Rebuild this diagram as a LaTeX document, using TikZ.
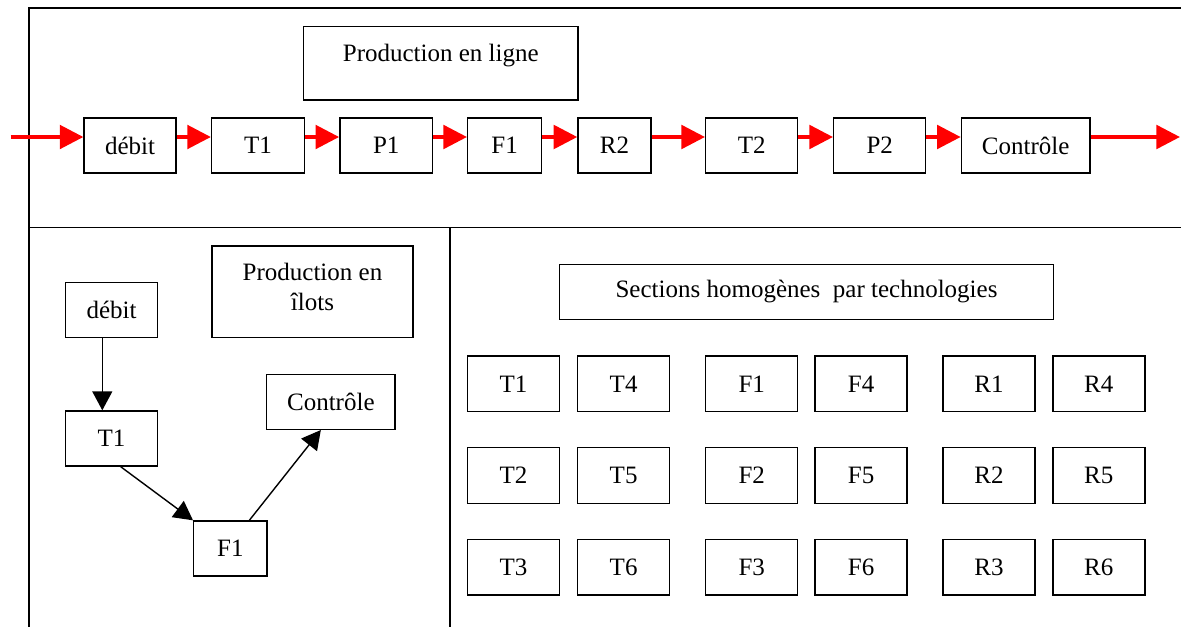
\documentclass[tikz,border=0pt]{standalone}
\usepackage{fontspec}
\setmainfont{Liberation Serif}
\usetikzlibrary{arrows.meta}
\begin{document}
\begin{tikzpicture}[x=0.5pt,y=-0.5pt,
  every node/.style={font=\fontsize{12.5}{15}\selectfont},
  box/.style={draw=black, line width=0.7pt, rectangle, inner sep=0pt,
              minimum height=27.5pt, minimum width=46pt},
  frame/.style={line width=0.9pt},
  flow/.style={draw=red, line width=2pt, -{Triangle[length=11.8pt,width=11.7pt]}},
  link/.style={draw=black, line width=0.7pt, -{Triangle[length=9.5pt,width=10pt]}},
]
\useasboundingbox (0,0) rectangle (1181,627);

% frame and section dividers
\draw[frame] (1181,8) -- (29,8) -- (29,627);
\draw[frame] (29,227.5) -- (1181,227.5);
\draw[frame] (450,227.5) -- (450,627);

% ---- line production ----
\node[box, minimum width=137.25pt, minimum height=36.65pt] (ligne) at (440.75,63.35) {};
\node (lignetxt) at (440.75,55.5) {Production en ligne};

\node[box] (debitA) at (130.1,145.5) {débit};
\node[box, minimum width=46.3pt] (t1A) at (257.9,145.5) {T1};
\node[box, minimum width=46.35pt] (p1A) at (386.2,145.5) {P1};
\node[box, minimum width=36.9pt] (f1A) at (504.6,145.5) {F1};
\node[box, minimum width=36.5pt] (r2A) at (614.5,145.5) {R2};
\node[box] (t2A) at (751.7,145.5) {T2};
\node[box] (p2A) at (879.7,145.5) {P2};
\node[box, minimum width=64.2pt] (ctrlA) at (1025.6,145.5) {Contrôle};

\coordinate (flowlvl) at (0,137);
\coordinate (inA) at (10.7,137);
\coordinate (outA) at (1180,137);
\draw[flow] (inA) -- (debitA.west |- flowlvl);
\draw[flow] (debitA.east |- flowlvl) -- (t1A.west |- flowlvl);
\draw[flow] (t1A.east |- flowlvl) -- (p1A.west |- flowlvl);
\draw[flow] (p1A.east |- flowlvl) -- (f1A.west |- flowlvl);
\draw[flow] (f1A.east |- flowlvl) -- (r2A.west |- flowlvl);
\draw[flow] (r2A.east |- flowlvl) -- (t2A.west |- flowlvl);
\draw[flow] (t2A.east |- flowlvl) -- (p2A.west |- flowlvl);
\draw[flow] (p2A.east |- flowlvl) -- (ctrlA.west |- flowlvl);
\draw[flow] (ctrlA.east |- flowlvl) -- (outA);

% ---- island production ----
\node[box, minimum width=100.5pt, minimum height=45.85pt] (ilots) at (312.5,291.85) {};
\node[align=center] (ilotstxt) at ([yshift=2.5pt]ilots.center) {Production en\\îlots};

\node[box] (debitB) at (111.5,310.2) {débit};
\node[box] (t1B) at (111.5,438.5) {T1};
\node[box, minimum width=64.15pt] (ctrlB) at (330.85,401.8) {Contrôle};
\node[box, minimum width=36.65pt] (f1B) at (230.35,548.5) {F1};

\draw[link] ([xshift=-4.6pt]debitB.south) -- ([xshift=-4.6pt]t1B.north);
\draw[link] ([xshift=4.6pt]t1B.south) -- (f1B.north west);
\draw[link] ([xshift=9.5pt]f1B.north) -- ([xshift=-5pt]ctrlB.south);

% ---- homogeneous sections ----
\node[box, minimum width=246.9pt] (sections) at (806.5,291.8) {Sections homogènes\ \ par technologies};

\foreach \name/\cx/\cy in {
  T1/513.5/383.85, T2/513.5/475.5, T3/513.5/567.15,
  T4/623.6/383.85, T5/623.6/475.5, T6/623.6/567.15,
  F1/751.7/383.85, F2/751.7/475.5, F3/751.7/567.15,
  F4/861.1/383.85, F5/861.1/475.5, F6/861.1/567.15,
  R1/988.9/383.85, R2/988.9/475.5, R3/988.9/567.15,
  R4/1098.8/383.85, R5/1098.8/475.5, R6/1098.8/567.15}
  \node[box, minimum height=27.85pt] (sec\name) at (\cx,\cy) {\name};

\end{tikzpicture}
\end{document}
